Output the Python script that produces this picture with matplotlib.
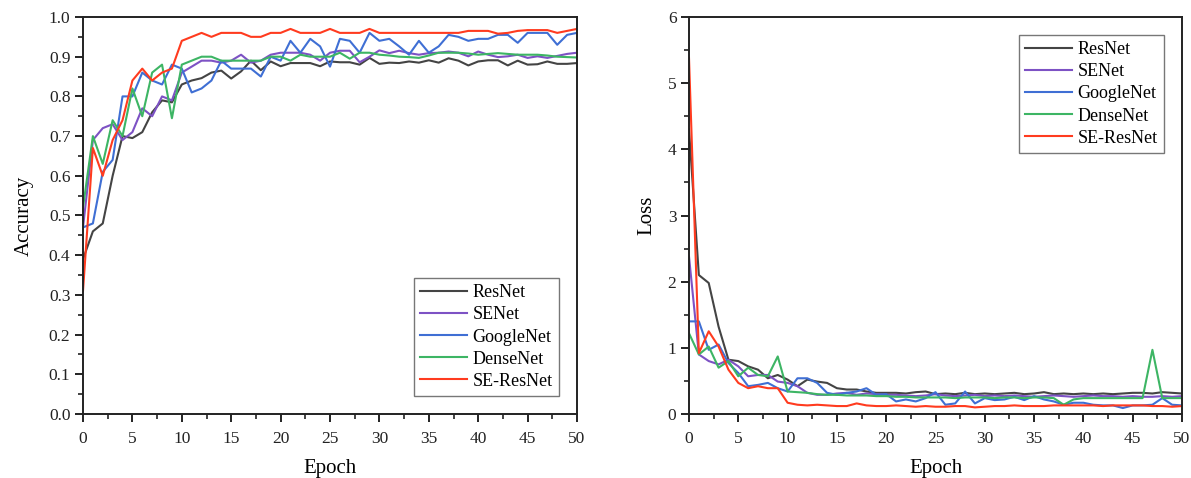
import matplotlib
matplotlib.use("Agg")
import matplotlib.pyplot as plt
import numpy as np
from matplotlib.ticker import MultipleLocator

plt.rcParams['font.family'] = ['Liberation Serif', 'DejaVu Serif']

epochs = list(range(51))
names = ["ResNet", "SENet", "GoogleNet", "DenseNet", "SE-ResNet"]
colors = ["#444444", "#7d52c4", "#3f6fd4", "#3db564", "#ff3b1f"]

acc_resnet = [0.39, 0.46, 0.48, 0.60, 0.70, 0.695, 0.71, 0.76, 0.79, 0.785,
              0.83, 0.84, 0.846, 0.86, 0.865, 0.845, 0.863, 0.89, 0.866, 0.888,
              0.876, 0.884, 0.884, 0.884, 0.876, 0.888, 0.886, 0.886, 0.88, 0.897,
              0.882, 0.885, 0.884, 0.888, 0.885, 0.891, 0.885, 0.896, 0.890, 0.878,
              0.888, 0.891, 0.891, 0.878, 0.890, 0.880, 0.881, 0.888, 0.882, 0.882, 0.884]
acc_senet = [0.47, 0.69, 0.72, 0.73, 0.69, 0.71, 0.77, 0.75, 0.80, 0.79,
             0.86, 0.875, 0.89, 0.89, 0.885, 0.89, 0.905, 0.885, 0.89, 0.905,
             0.91, 0.91, 0.91, 0.905, 0.89, 0.91, 0.915, 0.915, 0.886, 0.90,
             0.916, 0.909, 0.915, 0.909, 0.905, 0.909, 0.910, 0.913, 0.910, 0.901,
             0.913, 0.905, 0.899, 0.901, 0.905, 0.897, 0.901, 0.897, 0.902, 0.907, 0.910]
acc_googlenet = [0.47, 0.48, 0.61, 0.64, 0.80, 0.80, 0.86, 0.84, 0.83, 0.88,
                 0.87, 0.81, 0.82, 0.84, 0.89, 0.87, 0.87, 0.87, 0.85, 0.90,
                 0.89, 0.94, 0.91, 0.945, 0.926, 0.875, 0.945, 0.94, 0.91, 0.96,
                 0.94, 0.945, 0.926, 0.905, 0.94, 0.91, 0.926, 0.955, 0.95, 0.94,
                 0.945, 0.945, 0.955, 0.955, 0.935, 0.96, 0.96, 0.96, 0.93, 0.955, 0.96]
acc_densenet = [0.52, 0.70, 0.63, 0.74, 0.70, 0.82, 0.75, 0.86, 0.88, 0.745,
                0.88, 0.89, 0.90, 0.90, 0.89, 0.89, 0.89, 0.89, 0.89, 0.90,
                0.90, 0.89, 0.905, 0.90, 0.90, 0.90, 0.91, 0.895, 0.91, 0.91,
                0.905, 0.903, 0.90, 0.899, 0.897, 0.903, 0.91, 0.91, 0.91, 0.908,
                0.905, 0.907, 0.909, 0.907, 0.905, 0.905, 0.905, 0.903, 0.90, 0.899, 0.898]
acc_seresnet = [0.31, 0.67, 0.60, 0.69, 0.74, 0.84, 0.87, 0.84, 0.86, 0.87,
                0.94, 0.95, 0.96, 0.95, 0.96, 0.96, 0.96, 0.95, 0.95, 0.96,
                0.96, 0.97, 0.96, 0.96, 0.96, 0.97, 0.96, 0.96, 0.96, 0.97,
                0.96, 0.96, 0.96, 0.96, 0.96, 0.96, 0.96, 0.96, 0.96, 0.965,
                0.965, 0.965, 0.958, 0.96, 0.965, 0.967, 0.967, 0.967, 0.96, 0.965, 0.97]

loss_resnet = [4.3, 2.1, 1.98, 1.32, 0.82, 0.80, 0.72, 0.67, 0.54, 0.59,
               0.52, 0.42, 0.52, 0.49, 0.47, 0.39, 0.37, 0.37, 0.34, 0.32,
               0.32, 0.32, 0.31, 0.33, 0.34, 0.30, 0.31, 0.30, 0.32, 0.30,
               0.31, 0.30, 0.31, 0.32, 0.30, 0.31, 0.33, 0.30, 0.31, 0.30,
               0.31, 0.30, 0.31, 0.30, 0.31, 0.32, 0.32, 0.31, 0.33, 0.32, 0.31]
loss_senet = [2.38, 0.90, 0.80, 0.75, 0.82, 0.72, 0.57, 0.59, 0.59, 0.49,
              0.47, 0.42, 0.32, 0.29, 0.29, 0.31, 0.32, 0.29, 0.31, 0.30,
              0.29, 0.29, 0.28, 0.27, 0.28, 0.30, 0.28, 0.27, 0.28, 0.29,
              0.27, 0.28, 0.27, 0.28, 0.27, 0.26, 0.27, 0.28, 0.27, 0.26,
              0.27, 0.28, 0.27, 0.27, 0.26, 0.27, 0.26, 0.26, 0.27, 0.26, 0.27]
loss_googlenet = [1.40, 1.40, 0.97, 1.05, 0.77, 0.62, 0.42, 0.44, 0.47, 0.39,
                  0.34, 0.54, 0.54, 0.47, 0.32, 0.29, 0.32, 0.34, 0.39, 0.29,
                  0.30, 0.19, 0.22, 0.19, 0.24, 0.33, 0.14, 0.16, 0.34, 0.16,
                  0.24, 0.21, 0.22, 0.26, 0.21, 0.27, 0.22, 0.19, 0.14, 0.17,
                  0.17, 0.14, 0.13, 0.13, 0.09, 0.13, 0.13, 0.14, 0.24, 0.14, 0.13]
loss_densenet = [1.22, 0.90, 1.02, 0.70, 0.80, 0.57, 0.70, 0.59, 0.57, 0.87,
                 0.34, 0.33, 0.32, 0.30, 0.29, 0.29, 0.28, 0.28, 0.28, 0.27,
                 0.27, 0.26, 0.26, 0.25, 0.25, 0.25, 0.25, 0.24, 0.25, 0.25,
                 0.25, 0.24, 0.25, 0.25, 0.24, 0.25, 0.25, 0.24, 0.14, 0.22,
                 0.24, 0.24, 0.24, 0.24, 0.24, 0.24, 0.24, 0.97, 0.24, 0.24, 0.24]
loss_seresnet = [5.38, 0.92, 1.25, 1.02, 0.67, 0.47, 0.39, 0.42, 0.39, 0.39,
                 0.17, 0.14, 0.13, 0.14, 0.13, 0.12, 0.12, 0.16, 0.13, 0.12,
                 0.12, 0.13, 0.12, 0.11, 0.12, 0.11, 0.11, 0.12, 0.12, 0.10,
                 0.11, 0.12, 0.12, 0.13, 0.12, 0.12, 0.12, 0.13, 0.13, 0.13,
                 0.13, 0.13, 0.12, 0.13, 0.13, 0.13, 0.13, 0.12, 0.12, 0.11, 0.12]

acc_series = [acc_resnet, acc_senet, acc_googlenet, acc_densenet, acc_seresnet]
loss_series = [loss_resnet, loss_senet, loss_googlenet, loss_densenet, loss_seresnet]

fig = plt.figure(figsize=(11.91, 4.78), dpi=100)
ax1 = fig.add_axes([83/1191, 64/478, 494/1191, 397/478])
ax2 = fig.add_axes([689/1191, 64/478, 493/1191, 397/478])

for ys, name, c in zip(acc_series, names, colors):
    ax1.plot(epochs, ys, color=c, lw=1.5, label=name)
for ys, name, c in zip(loss_series, names, colors):
    ax2.plot(epochs, ys, color=c, lw=1.5, label=name)

ax1.set_xlim(0, 50)
ax1.set_ylim(0, 1.0)
ax1.yaxis.set_major_locator(MultipleLocator(0.1))
ax1.yaxis.set_minor_locator(MultipleLocator(0.05))
ax1.yaxis.set_major_formatter(matplotlib.ticker.FormatStrFormatter('%.1f'))
ax2.set_xlim(0, 50)
ax2.set_ylim(0, 6)
ax2.yaxis.set_major_locator(MultipleLocator(1))
ax2.yaxis.set_minor_locator(MultipleLocator(0.5))

for ax in (ax1, ax2):
    ax.xaxis.set_major_locator(MultipleLocator(5))
    ax.xaxis.set_minor_locator(MultipleLocator(2.5))
    ax.tick_params(which='major', direction='out', length=6, width=1.4, labelsize=12.5,
                   pad=3, colors='#222222')
    ax.tick_params(axis='x', which='major', pad=6)
    ax.tick_params(which='minor', direction='out', length=3.5, width=1.2, colors='#222222')
    for s in ax.spines.values():
        s.set_linewidth(1.4)
        s.set_color('#222222')
    ax.set_xlabel('Epoch', fontsize=15, labelpad=9)

ax1.set_ylabel('Accuracy', fontsize=15, labelpad=11)
ax2.set_ylabel('Loss', fontsize=15, labelpad=8)

leg_kw = dict(fontsize=13, frameon=True, fancybox=False, edgecolor='#555555',
              handlelength=2.6, handletextpad=0.3, labelspacing=0.28,
              borderpad=0.35, borderaxespad=1.0)
l1 = ax1.legend(loc='lower right', **leg_kw)
l2 = ax2.legend(loc='upper right', **leg_kw)
for l in (l1, l2):
    l.get_frame().set_linewidth(1.0)

fig.savefig('out.png', dpi=100)
